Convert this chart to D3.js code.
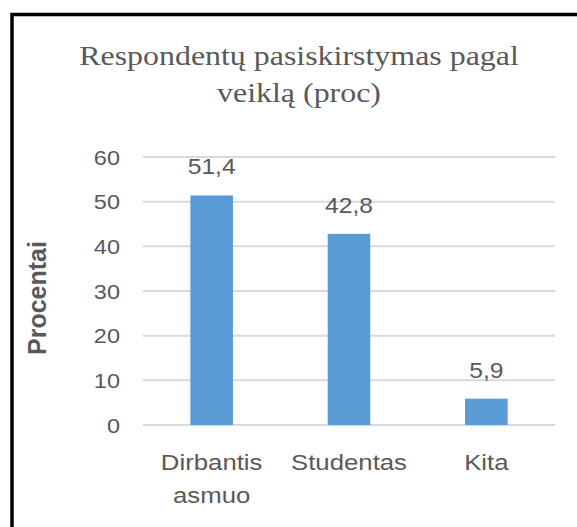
<!DOCTYPE html>
<html>
<head>
<meta charset="utf-8">
<script src="https://cdn.jsdelivr.net/npm/d3@7"></script>
<style>
  html, body { margin: 0; padding: 0; background: #fff; }
</style>
</head>
<body>
<svg id="chart" width="577" height="527"></svg>
<script>
// data
const categories = ["Dirbantis asmuo", "Studentas", "Kita"];
const values = [51.4, 42.8, 5.9];
const valueLabels = ["51,4", "42,8", "5,9"];
const yTicks = [0, 10, 20, 30, 40, 50, 60];
const titleLines = ["Respondentų pasiskirstymas pagal", "veiklą (proc)"];
const yTitle = "Procentai";

const svg = d3.select("#chart");
const textColor = "#595959";
const sx = 1.12; // the picture is a bit stretched sideways

// frame (cut off at right and bottom like the screenshot)
svg.append("rect")
  .attr("x", 12).attr("y", 14.5)
  .attr("width", 700).attr("height", 700)
  .attr("fill", "#fff")
  .attr("stroke", "#000")
  .attr("stroke-width", 3.5);

const x = d3.scaleBand()
  .domain(categories)
  .range([143, 555])
  .paddingInner(0.69)
  .paddingOuter(0.345);

const y = d3.scaleLinear().domain([0, 60]).range([425, 157]);

// gridlines
svg.append("g")
  .selectAll("line")
  .data(yTicks)
  .join("line")
  .attr("x1", 143).attr("x2", 555)
  .attr("y1", d => y(d)).attr("y2", d => y(d))
  .attr("stroke", "#D9D9D9")
  .attr("stroke-width", 2);

// y tick labels
svg.append("g")
  .selectAll("text")
  .data(yTicks)
  .join("text")
  .attr("transform", d => `translate(120,${y(d) + 7.5}) scale(${sx},1)`)
  .attr("text-anchor", "end")
  .attr("font-family", "Liberation Sans, Arial, sans-serif")
  .attr("font-size", 21)
  .attr("fill", textColor)
  .text(d => d);

// bars
svg.append("g")
  .selectAll("rect")
  .data(values)
  .join("rect")
  .attr("x", (d, i) => x(categories[i]))
  .attr("width", x.bandwidth())
  .attr("y", d => y(d))
  .attr("height", d => y(0) - y(d))
  .attr("fill", "#5B9BD5");

// value labels
svg.append("g")
  .selectAll("text")
  .data(values)
  .join("text")
  .attr("transform", (d, i) => `translate(${x(categories[i]) + x.bandwidth() / 2},${y(d) - 21}) scale(${sx},1)`)
  .attr("text-anchor", "middle")
  .attr("font-family", "Liberation Sans, Arial, sans-serif")
  .attr("font-size", 22)
  .attr("fill", textColor)
  .text((d, i) => valueLabels[i]);

// category labels
const cat = svg.append("g")
  .selectAll("text")
  .data(categories)
  .join("text")
  .attr("transform", d => `translate(${x(d) + x.bandwidth() / 2},470) scale(${sx},1)`)
  .attr("text-anchor", "middle")
  .attr("font-family", "Liberation Sans, Arial, sans-serif")
  .attr("font-size", 23)
  .attr("fill", textColor);

cat.selectAll("tspan")
  .data(d => d.split(" "))
  .join("tspan")
  .attr("x", 0)
  .attr("dy", (d, i) => i === 0 ? 0 : 33)
  .text(d => d);

// y axis title
svg.append("text")
  .attr("transform", "translate(46,298) rotate(-90)")
  .attr("text-anchor", "middle")
  .attr("font-family", "Liberation Sans, Arial, sans-serif")
  .attr("font-size", 25)
  .attr("font-weight", "bold")
  .attr("fill", textColor)
  .text(yTitle);

// title
svg.append("g")
  .selectAll("text")
  .data(titleLines)
  .join("text")
  .attr("transform", (d, i) => `translate(299,${65 + i * 37}) scale(1.14,1)`)
  .attr("text-anchor", "middle")
  .attr("font-family", "Liberation Serif, Times New Roman, serif")
  .attr("font-size", 28)
  .attr("fill", textColor)
  .text(d => d);
</script>
</body>
</html>
